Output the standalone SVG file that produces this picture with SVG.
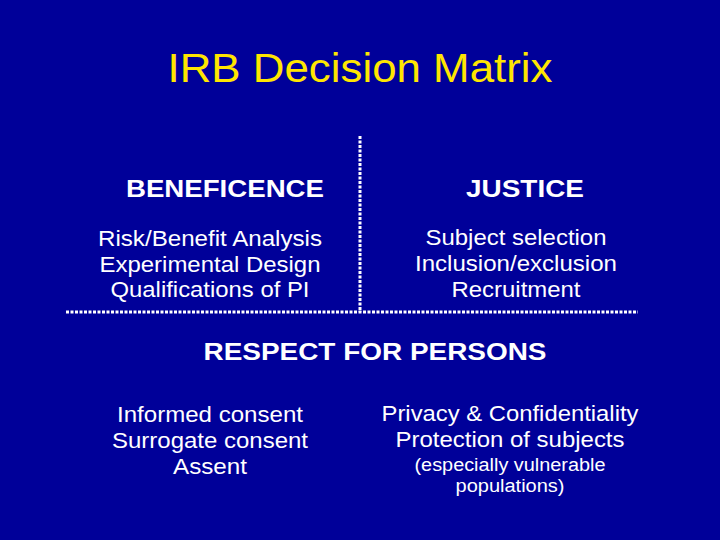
<svg xmlns="http://www.w3.org/2000/svg" width="720" height="540" viewBox="0 0 720 540">
<style>
text{font-family:"Liberation Sans",Arial,sans-serif;fill:#fff;text-anchor:middle}
.h{font-weight:bold;font-size:24px}
.b{font-size:22px}
.s{font-size:18px}
.d{stroke:#fff;stroke-width:3;stroke-dasharray:3 1.5;fill:none}
</style>
<rect width="720" height="540" fill="#000099"/>
<text x="360" y="82" font-size="41" textLength="385" lengthAdjust="spacingAndGlyphs" style="fill:#FFE600">IRB Decision Matrix</text>
<g id="connectors">
<line class="d" x1="360" y1="136" x2="360" y2="312"/>
<line class="d" x1="66" y1="312" x2="638" y2="312"/>
</g>
<g id="beneficence">
<text class="h" x="225" y="197" textLength="198" lengthAdjust="spacingAndGlyphs">BENEFICENCE</text>
<text class="b" x="210" y="246" textLength="224" lengthAdjust="spacingAndGlyphs">Risk/Benefit Analysis</text>
<text class="b" x="210" y="272" textLength="221" lengthAdjust="spacingAndGlyphs">Experimental Design</text>
<text class="b" x="210" y="297" textLength="199" lengthAdjust="spacingAndGlyphs">Qualifications of PI</text>
</g>
<g id="justice">
<text class="h" x="525" y="197" textLength="118" lengthAdjust="spacingAndGlyphs">JUSTICE</text>
<text class="b" x="516" y="245" textLength="181" lengthAdjust="spacingAndGlyphs">Subject selection</text>
<text class="b" x="516" y="271" textLength="202" lengthAdjust="spacingAndGlyphs">Inclusion/exclusion</text>
<text class="b" x="516" y="297" textLength="129" lengthAdjust="spacingAndGlyphs">Recruitment</text>
</g>
<g id="respect">
<text class="h" x="375" y="360" textLength="343" lengthAdjust="spacingAndGlyphs">RESPECT FOR PERSONS</text>
<text class="b" x="210" y="422" textLength="186" lengthAdjust="spacingAndGlyphs">Informed consent</text>
<text class="b" x="210" y="448" textLength="196" lengthAdjust="spacingAndGlyphs">Surrogate consent</text>
<text class="b" x="210" y="474" textLength="74" lengthAdjust="spacingAndGlyphs">Assent</text>
<text class="b" x="510" y="421" textLength="257" lengthAdjust="spacingAndGlyphs">Privacy &amp; Confidentiality</text>
<text class="b" x="510" y="447" textLength="229" lengthAdjust="spacingAndGlyphs">Protection of subjects</text>
<text class="s" x="510" y="471" textLength="191" lengthAdjust="spacingAndGlyphs">(especially vulnerable</text>
<text class="s" x="510" y="492" textLength="109" lengthAdjust="spacingAndGlyphs">populations)</text>
</g>
</svg>
